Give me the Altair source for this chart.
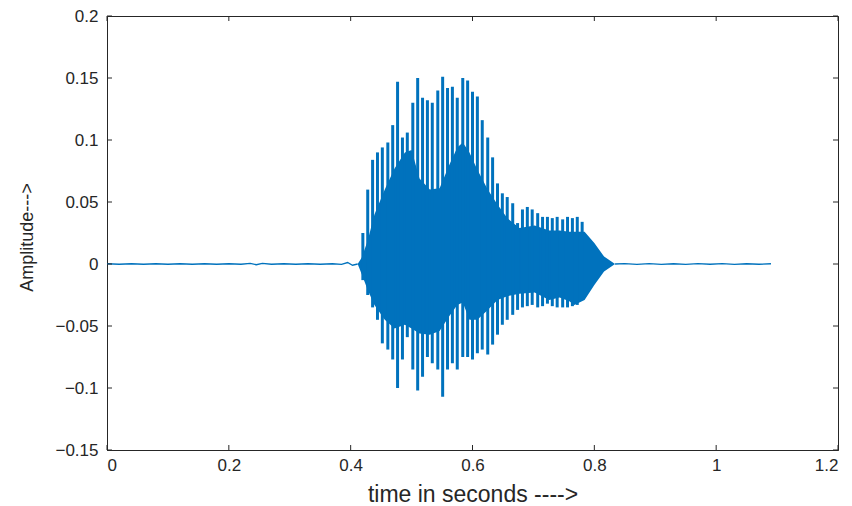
import altair as alt
import pandas as pd

BLUE = "#0072BD"
INK = "#262626"
FONT = "Liberation Sans"

# Pitch pulses (spikes) of the voiced part: time, spike top, spike bottom
spike_t = [0.420, 0.428, 0.436, 0.444, 0.452, 0.461, 0.469, 0.477, 0.485, 0.493,
           0.502, 0.510, 0.518, 0.526, 0.534, 0.543, 0.551, 0.559, 0.567, 0.575,
           0.584, 0.592, 0.600, 0.608, 0.616, 0.625, 0.633, 0.641, 0.649, 0.657,
           0.666, 0.674, 0.682, 0.690, 0.698, 0.707, 0.715, 0.723, 0.731, 0.739,
           0.748, 0.756, 0.764, 0.772, 0.780]
spike_hi = [0.025, 0.060, 0.084, 0.090, 0.094, 0.098, 0.112, 0.147, 0.102, 0.106,
            0.130, 0.150, 0.134, 0.132, 0.130, 0.140, 0.151, 0.142, 0.143, 0.134,
            0.150, 0.148, 0.139, 0.135, 0.116, 0.102, 0.086, 0.065, 0.057, 0.054,
            0.049, 0.033, 0.044, 0.046, 0.044, 0.041, 0.038, 0.038, 0.037, 0.038,
            0.036, 0.038, 0.037, 0.038, 0.034]
spike_lo = [-0.013, -0.025, -0.035, -0.045, -0.064, -0.069, -0.077, -0.100, -0.077, -0.059,
            -0.085, -0.102, -0.091, -0.075, -0.080, -0.085, -0.107, -0.085, -0.080, -0.085,
            -0.075, -0.075, -0.077, -0.072, -0.069, -0.073, -0.065, -0.057, -0.049, -0.045,
            -0.041, -0.037, -0.035, -0.034, -0.033, -0.035, -0.034, -0.032, -0.034, -0.035,
            -0.035, -0.035, -0.034, -0.033, -0.029]

# Dense body of the voiced part: time, upper and lower envelope
body_t = [0.4115, 0.418, 0.428, 0.439, 0.456, 0.472, 0.489, 0.500, 0.513, 0.530,
          0.546, 0.562, 0.575, 0.584, 0.595, 0.608, 0.625, 0.641, 0.657, 0.677,
          0.702, 0.726, 0.743, 0.759, 0.767, 0.784, 0.800, 0.816, 0.828, 0.834]
body_hi = [0.000, 0.005, 0.019, 0.040, 0.060, 0.077, 0.090, 0.092, 0.069, 0.060,
           0.061, 0.080, 0.094, 0.098, 0.090, 0.076, 0.060, 0.048, 0.037, 0.029,
           0.031, 0.027, 0.027, 0.026, 0.026, 0.026, 0.017, 0.006, 0.002, 0.000]
body_lo = [0.000, -0.008, -0.021, -0.033, -0.045, -0.052, -0.049, -0.052, -0.056, -0.057,
           -0.054, -0.042, -0.033, -0.031, -0.045, -0.045, -0.037, -0.029, -0.026, -0.024,
           -0.023, -0.029, -0.027, -0.030, -0.033, -0.029, -0.017, -0.006, -0.002, 0.000]

# Silent parts (low-level noise)
lead_t = [0.000, 0.020, 0.040, 0.060, 0.080, 0.100, 0.120, 0.140, 0.160, 0.180,
          0.200, 0.220, 0.235, 0.245, 0.255, 0.270, 0.290, 0.310, 0.330, 0.350,
          0.370, 0.385, 0.395, 0.403, 0.4115]
lead_v = [0.0002, -0.0002, 0.0002, -0.0002, 0.0002, -0.0002, 0.0002, -0.0002, 0.0002, -0.0002,
          0.0002, -0.0002, 0.0005, -0.0006, 0.0005, -0.0002, 0.0002, -0.0002, 0.0002, -0.0002,
          0.0002, -0.0003, 0.0012, -0.0010, 0.0000]
tail_t = [0.834, 0.850, 0.870, 0.890, 0.910, 0.930, 0.950, 0.970, 0.990, 1.010,
          1.030, 1.050, 1.070, 1.090]
tail_v = [0.0000, 0.0003, -0.0003, 0.0003, -0.0003, 0.0002, -0.0003, 0.0003, -0.0002, 0.0003,
          -0.0003, 0.0002, -0.0002, 0.0002]

x_ticks = [0, 0.2, 0.4, 0.6, 0.8, 1.0, 1.2]
y_ticks = [-0.15, -0.1, -0.05, 0, 0.05, 0.1, 0.15, 0.2]

W, H = 731, 434

xs = alt.Scale(domain=[0, 1.2], nice=False, zero=False)
ys = alt.Scale(domain=[-0.15, 0.2], nice=False, zero=False)

x_axis = alt.Axis(values=x_ticks, title="time in seconds ---->", labelFont=FONT, labelFontSize=17,
                  labelColor=INK, labelPadding=7, ticks=False, domainColor=INK, grid=False,
                  titleFont=FONT, titleFontSize=23, titleFontWeight="normal", titleColor=INK,
                  titleX=W / 2, titleY=44, titleBaseline="middle", titleAnchor="middle",
                  labelExpr="datum.value == 0 ? '0' : datum.value == 1 ? '1' : format(datum.value, '.1f')")
y_axis = alt.Axis(values=y_ticks, title="Amplitude--->", labelFont=FONT, labelFontSize=17,
                  labelColor=INK, labelPadding=9, ticks=False, domainColor=INK, grid=False,
                  titleFont=FONT, titleFontSize=18, titleFontWeight="normal", titleColor=INK,
                  titleX=-80, titleY=H / 2 + 4, titleBaseline="middle", titleAnchor="middle",
                  labelExpr="format(datum.value, '')")

lead = pd.DataFrame({"t": lead_t, "v": lead_v})
tail = pd.DataFrame({"t": tail_t, "v": tail_v})
body = pd.DataFrame({"t": body_t, "hi": body_hi, "lo": body_lo})
spikes = pd.DataFrame({"t": spike_t, "hi": spike_hi, "lo": spike_lo})
xt = pd.DataFrame({"x": x_ticks})
yt = pd.DataFrame({"y": y_ticks})

base_line = alt.Chart(lead).mark_line(color=BLUE, strokeWidth=1.3).encode(
    x=alt.X("t:Q", scale=xs, axis=x_axis),
    y=alt.Y("v:Q", scale=ys, axis=y_axis),
)
tail_line = alt.Chart(tail).mark_line(color=BLUE, strokeWidth=1.3).encode(
    x=alt.X("t:Q", scale=xs), y=alt.Y("v:Q", scale=ys))
body_area = alt.Chart(body).mark_area(color=BLUE, opacity=1, interpolate="linear").encode(
    x=alt.X("t:Q", scale=xs), y=alt.Y("lo:Q", scale=ys), y2="hi:Q")
spike_rules = alt.Chart(spikes).mark_rule(color=BLUE, strokeWidth=3).encode(
    x=alt.X("t:Q", scale=xs), y=alt.Y("lo:Q", scale=ys), y2="hi:Q")

xb = alt.Chart(xt).mark_rule(color=INK, strokeWidth=1).encode(
    x=alt.X("x:Q", scale=xs), y=alt.value(H), y2=alt.value(H - 5))
xtop = alt.Chart(xt).mark_rule(color=INK, strokeWidth=1).encode(
    x=alt.X("x:Q", scale=xs), y=alt.value(0), y2=alt.value(5))
yl = alt.Chart(yt).mark_rule(color=INK, strokeWidth=1).encode(
    y=alt.Y("y:Q", scale=ys), x=alt.value(0), x2=alt.value(5))
yr = alt.Chart(yt).mark_rule(color=INK, strokeWidth=1).encode(
    y=alt.Y("y:Q", scale=ys), x=alt.value(W), x2=alt.value(W - 5))

chart = alt.layer(base_line, tail_line, body_area, spike_rules, xb, xtop, yl, yr).properties(
    width=W, height=H,
    autosize=alt.AutoSizeParams(type="none"),
    padding={"left": 107, "top": 16, "right": 14, "bottom": 56},
    background="white",
).configure_view(stroke=INK, strokeWidth=1)

chart.save("out.html", embed_options={"renderer": "svg", "actions": False})
